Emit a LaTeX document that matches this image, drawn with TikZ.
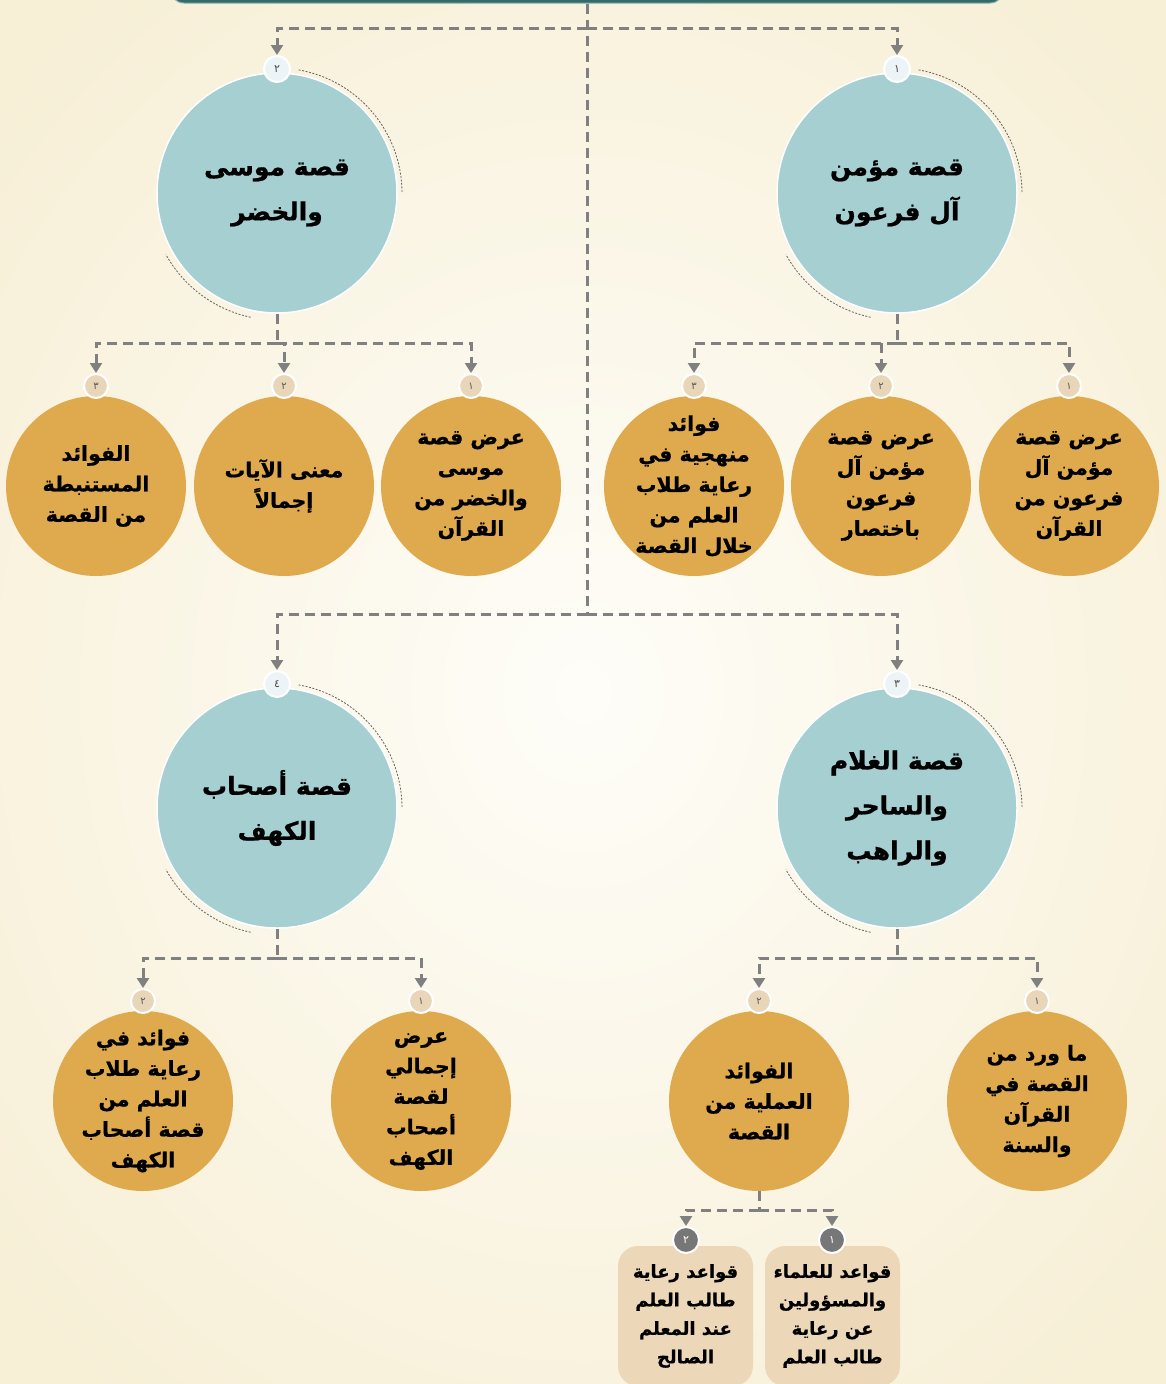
\documentclass[tikz,border=0pt]{standalone}
\usepackage{fontspec}
\usetikzlibrary{arrows.meta,shapes.geometric}
\TeXXeTstate=1
\newfontfamily\arabicfont[Script=Arabic,BoldFont={DejaVu Sans Bold},BoldFeatures={FakeBold=0.8}]{DejaVu Sans}
\newcommand{\ar}[1]{\beginR #1\endR}
\definecolor{tealc}{HTML}{A6CFD2}
\definecolor{goldc}{HTML}{DFAA4D}
\definecolor{beigeb}{HTML}{E9D6B9}
\definecolor{blueb}{HTML}{EDF4F7}
\definecolor{boxc}{HTML}{ECD8B8}
\definecolor{lineg}{HTML}{808080}
\definecolor{arcg}{HTML}{666666}
\definecolor{darkb}{HTML}{777777}
\definecolor{bgin}{HTML}{FEFDF8}
\definecolor{bgout}{HTML}{F7EFD6}
\definecolor{barc}{HTML}{356B66}
\tikzset{
  bigc/.style={circle, fill=tealc, draw=white, line width=1.5pt, minimum size=240pt, inner sep=-10pt, align=center,
    font=\arabicfont\bfseries\fontsize{25}{45}\selectfont},
  smallc/.style={circle, fill=goldc, minimum size=180pt, inner sep=-20pt, align=center,
    font=\arabicfont\bfseries\fontsize{20.5}{30.5}\selectfont},
  boxn/.style={rounded corners=20pt, fill=boxc, minimum width=135pt, minimum height=140pt, inner sep=0pt, align=center,
    font=\arabicfont\bfseries\fontsize{18}{28.5}\selectfont},
  badgebig/.style={circle, fill=blueb, draw=white, line width=2pt, minimum size=26pt, inner sep=0pt,
    font=\arabicfont\fontsize{11}{11}\selectfont, text=black!70},
  badgesm/.style={circle, fill=beigeb, draw=white, line width=2pt, minimum size=24pt, inner sep=0pt,
    font=\arabicfont\fontsize{10}{10}\selectfont, text=black!65},
  badgedk/.style={circle, fill=darkb, draw=white, line width=2pt, minimum size=26pt, inner sep=0pt,
    font=\arabicfont\fontsize{11}{11}\selectfont, text=white},
  dline/.style={draw=lineg, line width=3pt, dash pattern=on 10pt off 6pt},
  conn/.style={dline, -{Triangle[width=12pt,length=10pt]}},
  arcd/.style={draw=arcg, line width=0.8pt, dash pattern=on 2pt off 1.5pt},
  topbar/.style={rounded corners=14pt, fill=barc, draw=tealc!70!barc, line width=1pt, minimum width=834pt, minimum height=46pt}
}
\begin{document}
\begin{tikzpicture}[x=1pt,y=-1pt]
\useasboundingbox (0,0) rectangle (1166,1384);
\shade[inner color=bgin, outer color=bgout] (-200,-200) rectangle (1366,1584);
\node[topbar] (title) at (587,-20) {};

% big circles
\node[bigc] (c1) at (897,193) {\ar{قصة مؤمن}\\\ar{آل فرعون}};
\node[bigc] (c2) at (277,193) {\ar{قصة موسى}\\\ar{والخضر}};
\node[bigc] (c3) at (897,808) {\ar{قصة الغلام}\\\ar{والساحر}\\\ar{والراهب}};
\node[bigc] (c4) at (277,808) {\ar{قصة أصحاب}\\\ar{الكهف}};
\foreach \c in {c1,c2,c3,c4}{
  \draw[arcd] (\c.center) ++(-80:125) arc[start angle=-80, end angle=0, radius=125];
  \draw[arcd] (\c.center) ++(102:127) arc[start angle=102, end angle=151, radius=127];
}
\node[badgebig] (b1) at (897,69) {١};
\node[badgebig] (b2) at (277,69) {٢};
\node[badgebig] (b3) at (897,684) {٣};
\node[badgebig] (b4) at (277,684) {٤};

% first row small circles
\node[smallc] (s11) at (1069,486) {\ar{عرض قصة}\\\ar{مؤمن آل}\\\ar{فرعون من}\\\ar{القرآن}};
\node[smallc] (s12) at (881,486) {\ar{عرض قصة}\\\ar{مؤمن آل}\\\ar{فرعون}\\\ar{باختصار}};
\node[smallc] (s13) at (694,486) {\ar{فوائد}\\\ar{منهجية في}\\\ar{رعاية طلاب}\\\ar{العلم من}\\\ar{خلال القصة}};
\node[smallc] (s21) at (471,486) {\ar{عرض قصة}\\\ar{موسى}\\\ar{والخضر من}\\\ar{القرآن}};
\node[smallc] (s22) at (284,486) {\ar{معنى الآيات}\\\ar{إجمالاً}};
\node[smallc] (s23) at (96,486) {\ar{الفوائد}\\\ar{المستنبطة}\\\ar{من القصة}};
\node[badgesm] (t11) at (1069,386) {١};
\node[badgesm] (t12) at (881,386) {٢};
\node[badgesm] (t13) at (694,386) {٣};
\node[badgesm] (t21) at (471,386) {١};
\node[badgesm] (t22) at (284,386) {٢};
\node[badgesm] (t23) at (96,386) {٣};

% second row small circles
\node[smallc] (s31) at (1037,1101) {\ar{ما ورد من}\\\ar{القصة في}\\\ar{القرآن}\\\ar{والسنة}};
\node[smallc] (s32) at (759,1101) {\ar{الفوائد}\\\ar{العملية من}\\\ar{القصة}};
\node[smallc] (s41) at (421,1101) {\ar{عرض}\\\ar{إجمالي}\\\ar{لقصة}\\\ar{أصحاب}\\\ar{الكهف}};
\node[smallc] (s42) at (143,1101) {\ar{فوائد في}\\\ar{رعاية طلاب}\\\ar{العلم من}\\\ar{قصة أصحاب}\\\ar{الكهف}};
\node[badgesm] (t31) at (1037,1001) {١};
\node[badgesm] (t32) at (759,1001) {٢};
\node[badgesm] (t41) at (421,1001) {١};
\node[badgesm] (t42) at (143,1001) {٢};

% boxes
\node[boxn] (r1) at (832.5,1316) {\ar{قواعد للعلماء}\\\ar{والمسؤولين}\\\ar{عن رعاية}\\\ar{طالب العلم}};
\node[boxn] (r2) at (685.5,1316) {\ar{قواعد رعاية}\\\ar{طالب العلم}\\\ar{عند المعلم}\\\ar{الصالح}};
\node[badgedk] (u1) at (832,1240) {١};
\node[badgedk] (u2) at (686,1240) {٢};

% connectors
\coordinate (j1) at (587,28);
\coordinate (j2) at (587,614);
\draw[dline] (title.south) -- (j2);
\draw[conn] (j1) -| (b1);
\draw[conn] (j1) -| (b2);
\draw[conn] (j2) -| (b3);
\draw[conn] (j2) -| (b4);

\coordinate (k1) at (897,343);
\draw[dline] (c1) -- (k1);
\draw[conn] (k1) -| (t11);
\draw[conn] (k1) -| (t12);
\draw[conn] (k1) -| (t13);
\coordinate (k2) at (277,343);
\draw[dline] (c2) -- (k2);
\draw[conn] (k2) -| (t21);
\draw[conn] (k2) -| (t22);
\draw[conn] (k2) -| (t23);

\coordinate (k3) at (897,958);
\draw[dline] (c3) -- (k3);
\draw[conn] (k3) -| (t31);
\draw[conn] (k3) -| (t32);
\coordinate (k4) at (277,958);
\draw[dline] (c4) -- (k4);
\draw[conn] (k4) -| (t41);
\draw[conn] (k4) -| (t42);

\coordinate (k5) at (759,1210);
\draw[dline] (s32) -- (k5);
\draw[conn] (k5) -| (u1);
\draw[conn] (k5) -| (u2);
\end{tikzpicture}
\end{document}
